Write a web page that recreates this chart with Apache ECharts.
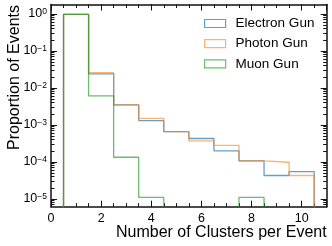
<!DOCTYPE html>
<html><head><meta charset="utf-8">
<script src="https://cdn.jsdelivr.net/npm/echarts@6/dist/echarts.min.js"></script>
<style>html,body{margin:0;padding:0;background:#fff}#c{width:332px;height:246px}</style>
</head><body><div id="c"></div>
<script>
const binCenters = [1, 2, 3, 4, 5, 6, 7, 8, 9, 10];
const binWidth = 1;
const electronGun = [0.98, 0.024, 0.0035, 0.00131, 0.00066, 0.00043, 0.00020, 0.000107, 0.000043, 0.000055];
const photonGun   = [0.98, 0.026, 0.0035, 0.00150, 0.00066, 0.00037, 0.00028, 0.000107, 0.000098, 0.000043];
const muonGun     = [0.98, 0.0061, 0.000134, 0.000011, 0, 0, 0, 0.000011, 0, 0];
const seriesNames = ['Electron Gun', 'Photon Gun', 'Muon Gun'];
const xTickValues = [0, 2, 4, 6, 8, 10];
const yTickExponents = [-5, -4, -3, -2, -1, 0];
const xRange = [0, 11];
const yRange = [Math.pow(10, -5.21), Math.pow(10, 0.257)];

const FONT = 'Liberation Sans, Arial, Helvetica, sans-serif';
const colors = ['rgba(31,119,180,0.7)', 'rgba(255,127,14,0.6)', 'rgba(44,160,44,0.7)'];

function stepPoints(vals) {
  const floor = 1e-9;
  const pts = [];
  const first = binCenters[0] - binWidth / 2;
  const last = binCenters[binCenters.length - 1] + binWidth / 2;
  pts.push([first, floor]);
  vals.forEach((v, i) => {
    const lo = binCenters[i] - binWidth / 2, hi = binCenters[i] + binWidth / 2;
    const y = v > 0 ? v : floor;
    pts.push([lo, y]); pts.push([hi, y]);
  });
  pts.push([last, floor]);
  return pts;
}

const yMajor = yTickExponents.map(e => Math.pow(10, e));
const yMinor = [];
for (let d = -6; d <= 0; d++) for (let k = 2; k <= 9; k++) {
  const v = k * Math.pow(10, d);
  if (v > yRange[0] && v < yRange[1]) yMinor.push(v);
}

const lineCol = '#111';
function xAx(pos, major, labels) {
  return {
    type: 'value', position: pos, min: xRange[0], max: xRange[1],
    interval: major ? 2 : 0.5,
    axisLine: { show: major, onZero: false, lineStyle: { color: lineCol, width: 1.5 } },
    axisTick: { show: true, inside: true, length: major ? 6 : 3.5, lineStyle: { color: lineCol, width: 1 } },
    axisLabel: { show: labels, margin: 5, fontSize: 12.5, color: '#000', fontFamily: FONT,
      customValues: xTickValues },
    splitLine: { show: false }
  };
}
function yAx(pos, major, labels) {
  return {
    type: 'log', logBase: 10, position: pos, min: yRange[0], max: yRange[1],
    axisLine: { show: major, onZero: false, lineStyle: { color: lineCol, width: 1.5 } },
    axisTick: { show: true, inside: true, length: major ? 6 : 3.5, lineStyle: { color: lineCol, width: 1 },
      customValues: major ? yMajor : yMinor },
    axisLabel: { show: labels, margin: 4, color: '#000', fontFamily: FONT,
      customValues: yMajor,
      formatter: v => {
        const e = Math.round(Math.log10(v));
        return '{b|10}{s|' + (e < 0 ? '\u2212' + (-e) : e) + '}';
      },
      rich: {
        b: { fontSize: 12.5, fontFamily: FONT, color: '#000', lineHeight: 14 },
        s: { fontSize: 8.5, fontFamily: FONT, color: '#000', verticalAlign: 'top', lineHeight: 14 }
      }
    },
    splitLine: { show: false }
  };
}

const chart = echarts.init(document.getElementById('c'), null, { renderer: 'canvas' });
chart.setOption({
  animation: false,
  backgroundColor: '#fff',
  grid: { left: 51, right: 5.3, top: 4.5, bottom: 39.3, containLabel: false },
  xAxis: [xAx('bottom', true, true), xAx('bottom', false, false), xAx('top', true, false), xAx('top', false, false)],
  yAxis: [yAx('left', true, true), yAx('left', false, false), yAx('right', true, false), yAx('right', false, false)],
  legend: {
    orient: 'vertical', left: 204, top: 16.5, padding: 0, itemGap: 6.2,
    itemWidth: 21, itemHeight: 8, icon: 'rect',
    textStyle: { fontSize: 13.5, fontFamily: FONT, color: '#000', lineHeight: 13, padding: [0, 0, 0, 5] },
    data: seriesNames.map((n, i) => ({ name: n, icon: 'rect',
      itemStyle: { color: 'rgba(0,0,0,0)', borderColor: colors[i], borderWidth: 1.2 } }))
  },
  graphic: [
    { type: 'text', x: 326.7, y: 233, style: { text: 'Number of Clusters per Event', fontSize: 16, fontFamily: FONT, fill: '#000', align: 'right', verticalAlign: 'middle' } },
    { type: 'text', x: 15, y: 5, rotation: Math.PI / 2, style: { text: 'Proportion of Events', fontSize: 16, fontFamily: FONT, fill: '#000', align: 'right', verticalAlign: 'middle' } }
  ],
  series: [electronGun, photonGun, muonGun].map((vals, i) => ({
    name: seriesNames[i], type: 'line', xAxisIndex: 0, yAxisIndex: 0,
    data: stepPoints(vals), symbol: 'none', clip: true,
    lineStyle: { color: colors[i], width: 1.3 }, itemStyle: { color: colors[i] }
  }))
});
</script></body></html>
